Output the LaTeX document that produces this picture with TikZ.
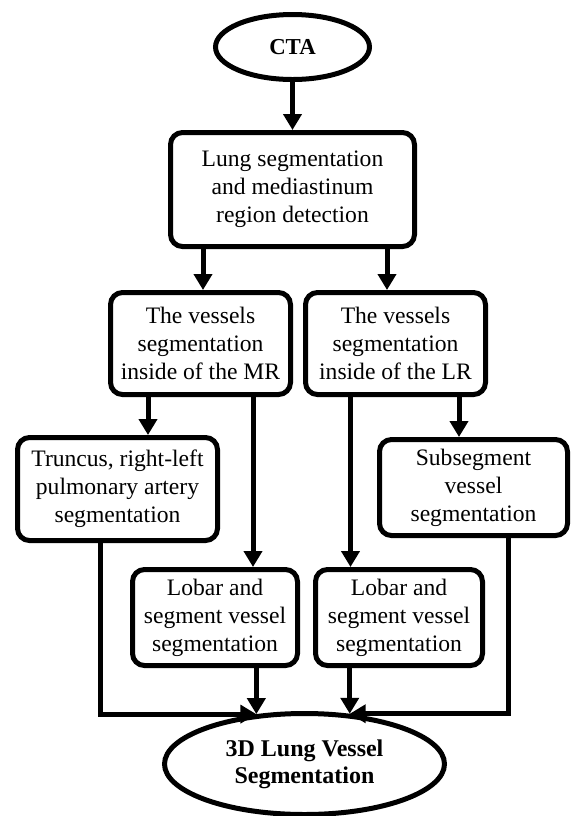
\documentclass[tikz,border=0pt]{standalone}
\usepackage{fontspec}
\setmainfont{Liberation Serif}
\usepackage{tikz}
\usetikzlibrary{shapes}
\usetikzlibrary{arrows.meta}
\tikzset{stage/.style={rectangle,rounded corners=6pt,draw=black,fill=white,line width=2.5pt,
inner sep=1pt, align=center, font=\fontsize{11.8}{14}\selectfont},
terminal/.style={stage,ellipse,inner sep=0pt,font=\fontsize{11.4}{14}\selectfont\bfseries},
bigbold/.style={font=\fontsize{12}{13.5}\selectfont\bfseries},
link/.style={color=black, line width=2.5pt},
>={Triangle[length=8pt,width=9pt]}}

\begin{document}
\begin{tikzpicture}[x=0.5pt,y=-0.5pt]
  \useasboundingbox (0,0) rectangle (573,816);
  \node (cta) [terminal, minimum width=77pt, minimum height=32.5pt] at (292.5,47) {CTA};
  \node (lung) [stage, minimum width=122pt, minimum height=57pt] at (292.5,189.5)
    {Lung segmentation\\and mediastinum\\region detection};
  \node (mr) [stage, minimum width=90pt, minimum height=51pt] at (200.5,343.5)
    {The vessels\\segmentation\\inside of the MR};
  \node (lr) [stage, minimum width=90pt, minimum height=51pt] at (395.5,343.5)
    {The vessels\\segmentation\\inside of the LR};
  \node (trunc) [stage, minimum width=100pt, minimum height=51.5pt] at (117.5,489)
    {Truncus, right-left\\pulmonary artery\\segmentation};
  \node (subseg) [stage, minimum width=94pt, minimum height=48pt] at (473.5,487.5)
    {Subsegment\\vessel\\segmentation};
  \node (lobl) [stage, minimum width=82.5pt, minimum height=48pt] at (215,617.5)
    {Lobar and\\segment vessel\\segmentation};
  \node (lobr) [stage, minimum width=83.5pt, minimum height=48pt] at (399,617.5)
    {Lobar and\\segment vessel\\segmentation};
  \node (vessel3d) [terminal, bigbold, minimum width=140pt, minimum height=50.5pt] at (304.5,764)
    {3D Lung Vessel\\Segmentation};
  % connectors
  \draw [->, link] (cta.south) -- (cta.south |- lung.north);
  \draw [->, link] ([xshift=1.25pt]mr.north |- lung.south) -- ([xshift=1.25pt]mr.north);
  \draw [->, link] ([xshift=-4.25pt]lr.north |- lung.south) -- ([xshift=-4.25pt]lr.north);
  \draw [->, link] ([xshift=-26.25pt]mr.south) -- ([xshift=-26.25pt]mr.south |- trunc.north);
  \draw [->, link] ([xshift=26.25pt]mr.south) -- ([xshift=26.25pt]mr.south |- lobl.north);
  \draw [->, link] ([xshift=-22.5pt]lr.south) -- ([xshift=-22.5pt]lr.south |- lobr.north);
  \draw [->, link] ([xshift=31.75pt]lr.south) -- ([xshift=31.75pt]lr.south |- subseg.north);
  \draw [->, link] (lobl.south -| vessel3d.134) -- (vessel3d.134);
  \draw [->, link] (lobr.south -| vessel3d.48) -- (vessel3d.48);
  \draw [->, link] ([xshift=-8.75pt]trunc.south) |- (vessel3d.134);
  \draw [->, link] ([xshift=17.25pt]subseg.south) |- (vessel3d.48);
\end{tikzpicture}
\end{document}
